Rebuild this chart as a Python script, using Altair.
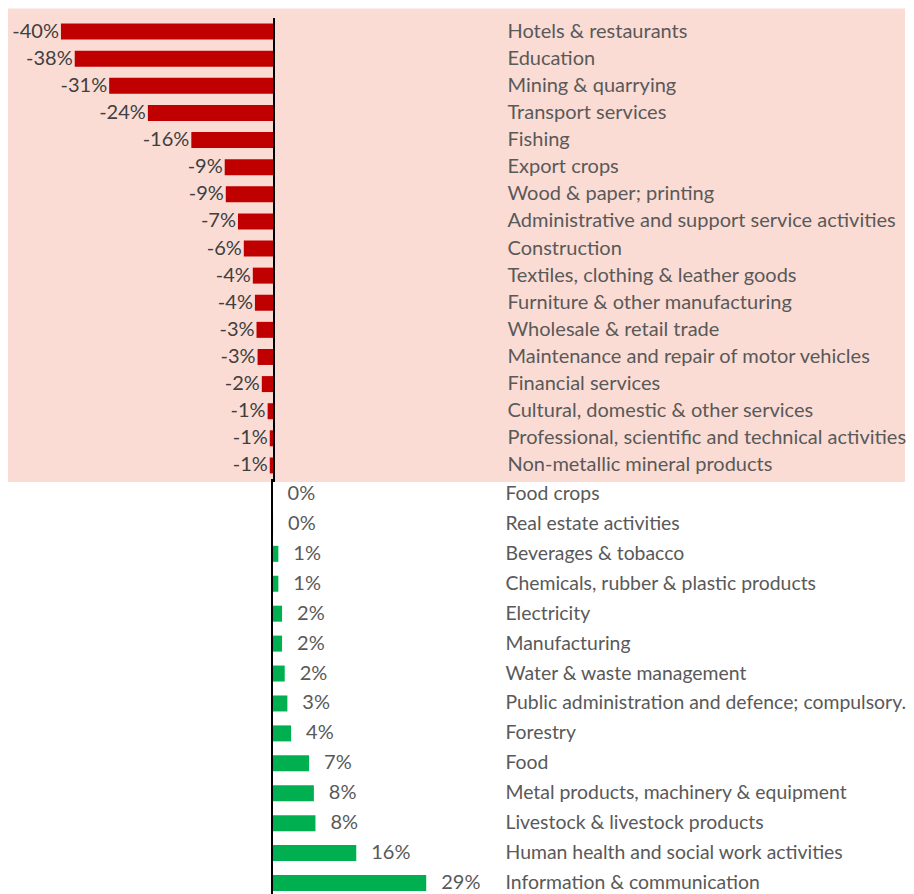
import altair as alt
import pandas as pd

# ---- data ----
neg_categories = [
    "Hotels & restaurants", "Education", "Mining & quarrying", "Transport services",
    "Fishing", "Export crops", "Wood & paper; printing",
    "Administrative and support service activities", "Construction",
    "Textiles, clothing & leather goods", "Furniture & other manufacturing",
    "Wholesale & retail trade", "Maintenance and repair of motor vehicles",
    "Financial services", "Cultural, domestic & other services",
    "Professional, scientific and technical activities", "Non-metallic mineral products",
]
neg_values = [-40.2, -37.6, -31.1, -23.8, -15.6, -9.3, -9.1, -6.8, -5.7,
              -4.0, -3.6, -3.3, -3.1, -2.3, -1.2, -0.8, -0.8]

pos_categories = [
    "Food crops", "Real estate activities", "\u00a0Beverages & tobacco",
    "Chemicals, rubber & plastic products", "Electricity", "Manufacturing",
    "Water & waste management", "Public administration and defence; compulsory.",
    "Forestry", "Food", "Metal products, machinery & equipment",
    "Livestock & livestock products", "Human health and social work activities",
    "Information & communication",
]
pos_values = [0.1, 0.2, 1.2, 1.2, 1.9, 1.9, 2.4, 2.9, 3.6, 7.0, 7.9, 8.2, 15.9, 29.1]


def pct_label(v):
    return f"{round(v):d}%"


FONT = "Lato"
FS = 20
FS_BOT_LABELS = 19.4
RED = "#C00000"
GREEN = "#00B050"
PINK = "#FBDCD4"

top_df = pd.DataFrame({"cat": neg_categories, "val": neg_values,
                       "lab": [pct_label(v) for v in neg_values]})
bot_df = pd.DataFrame({"cat": pos_categories, "val": pos_values,
                       "lab": [pct_label(v) for v in pos_values]})
one = pd.DataFrame({"k": [0]})

TOP_W, TOP_H = 492, 461
BOT_W, BOT_H = 490, 419
PX_PER_PCT = 5.3


def y_enc(cats, color, fs):
    return alt.Y("cat:N", sort=cats,
                 scale=alt.Scale(paddingInner=0, paddingOuter=0),
                 axis=alt.Axis(orient="right", ticks=False, domain=False, grid=False,
                               labelPadding=7, labelFont=FONT, labelFontSize=fs,
                               labelColor=color, labelLimit=700, title=None, zindex=1))


x_top = alt.X("val:Q", scale=alt.Scale(domain=[-266 / PX_PER_PCT, (TOP_W - 266) / PX_PER_PCT],
                                      nice=False, zero=False), axis=None)
x_bot = alt.X("val:Q", scale=alt.Scale(domain=[-264 / PX_PER_PCT, (BOT_W - 264) / PX_PER_PCT],
                                      nice=False, zero=False), axis=None)

bg = alt.Chart(one).mark_rect(color=PINK).encode(
    x=alt.value(0), x2=alt.value(897), y=alt.value(-9.4), y2=alt.value(TOP_H + 3))

top_base = alt.Chart(top_df)
top_bars = top_base.mark_bar(size=16, color=RED).encode(
    x=x_top, x2=alt.datum(0), y=y_enc(neg_categories, "#595959", FS))
top_text = top_base.mark_text(align="right", baseline="middle", dx=-2, font=FONT,
                              fontSize=FS, color="#404040").encode(
    x=x_top, y=alt.Y("cat:N", sort=neg_categories), text="lab:N")
top_rule = alt.Chart(one).mark_rule(color="black", strokeWidth=2).encode(
    x=alt.datum(0), y=alt.value(0), y2=alt.value(TOP_H + 3))
top = alt.layer(bg, top_bars, top_text, top_rule).properties(width=TOP_W, height=TOP_H)

bot_base = alt.Chart(bot_df)
bot_bars = bot_base.mark_bar(size=16, color=GREEN).encode(
    x=x_bot, x2=alt.datum(0), y=y_enc(pos_categories, "#595959", FS_BOT_LABELS))
bot_text = bot_base.mark_text(align="left", baseline="middle", dx=15, font=FONT,
                              fontSize=FS, color="#595959").encode(
    x=x_bot, y=alt.Y("cat:N", sort=pos_categories), text="lab:N")
bot_rule = alt.Chart(one).mark_rule(color="black", strokeWidth=2).encode(
    x=alt.datum(0), y=alt.value(0), y2=alt.value(BOT_H))
bottom = alt.layer(bot_bars, bot_text, bot_rule).properties(width=BOT_W, height=BOT_H)

chart = alt.vconcat(top, bottom, spacing=0, bounds="flush").properties(
    padding=0, background="white"
).configure_view(stroke=None)

chart.save("out.html", embed_options={"renderer": "svg", "actions": False})
